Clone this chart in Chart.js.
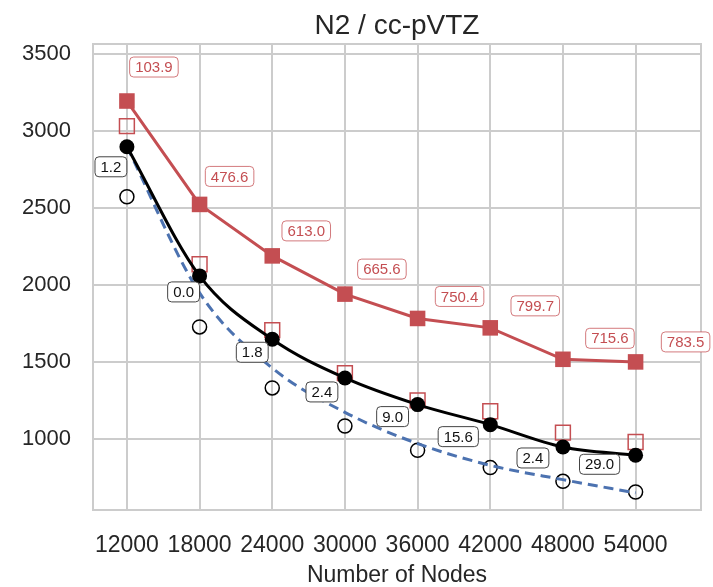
<!DOCTYPE html>
<html>
<head>
<meta charset="utf-8">
<script src="https://cdn.jsdelivr.net/npm/chart.js@4.4.1/dist/chart.umd.min.js"></script>
<style>
  body { margin: 0; background: #fff; }
  canvas { display: block; }
</style>
</head>
<body>
<canvas id="scalingChart" width="713" height="587"></canvas>
<script>
const FONT = '"Liberation Sans", Arial, sans-serif';

// datos
const nodes = [12000, 18000, 24000, 30000, 36000, 42000, 48000, 54000];
const tiempoRojo = [3195, 2524, 2190, 1942, 1784, 1723, 1519, 1502];
const tiempoRojoHueco = [3032, 2136, 1708, 1429, 1252, 1182, 1043, 982];
const tiempoNegro = [2898, 2060, 1649, 1398, 1225, 1095, 950, 896];
const tiempoNegroHueco = [2574, 1729, 1333, 1086, 929, 816, 727, 658];
const tiempoIdeal = [2898, 1950, 1462, 1175, 972, 831, 738, 652];
const etiquetasNegras = ['1.2', '0.0', '1.8', '2.4', '9.0', '15.6', '2.4', '29.0'];
const etiquetasRojas = ['103.9', '476.6', '613.0', '665.6', '750.4', '799.7', '715.6', '783.5'];
const xTicks = [12000, 18000, 24000, 30000, 36000, 42000, 48000, 54000];
const yTicks = [1000, 1500, 2000, 2500, 3000, 3500];

const ROJO = '#C44E52';
const AZUL = '#4C72B0';
const GRID = '#cccccc';

// desplazamiento (px) de cada caja respecto a su punto
const offsetsNegros = [[-16, 20], [-16, 16], [-20, 13], [-23, 14], [-25, 12], [-32, 12], [-30, 11], [-36, 9]];
const offsetsRojos = [[27, -34], [30, -28], [34, -25], [37, -25], [42, -22], [45, -22], [47, -21], [50, -20]];

const pts = vals => nodes.map((n, i) => ({ x: n, y: vals[i] }));

function cajaRedondeada(ctx, x, y, w, h, r) {
    ctx.beginPath();
    ctx.moveTo(x + r, y);
    ctx.arcTo(x + w, y, x + w, y + h, r);
    ctx.arcTo(x + w, y + h, x, y + h, r);
    ctx.arcTo(x, y + h, x, y, r);
    ctx.arcTo(x, y, x + w, y, r);
    ctx.closePath();
}

const marcoPlugin = {
    id: 'marco',
    beforeDatasetsDraw(chart) {
        const { ctx, chartArea: a } = chart;
        ctx.save();
        ctx.strokeStyle = GRID;
        ctx.lineWidth = 2;
        ctx.strokeRect(a.left, a.top, a.right - a.left, a.bottom - a.top);
        ctx.restore();
    },
    afterDraw(chart) {
        const { ctx, chartArea: a } = chart;
        ctx.save();
        ctx.fillStyle = '#262626';
        ctx.font = '28px ' + FONT;
        ctx.textAlign = 'center';
        ctx.textBaseline = 'alphabetic';
        ctx.fillText('N2 / cc-pVTZ', (a.left + a.right) / 2, 34);
        ctx.restore();
    }
};

const etiquetasPlugin = {
    id: 'etiquetas',
    afterDatasetsDraw(chart) {
        const ctx = chart.ctx;
        const xs = chart.scales.x, ys = chart.scales.y;
        const grupos = [
            { textos: etiquetasNegras, valores: tiempoNegro, offs: offsetsNegros, color: '#111', borde: '#444' },
            { textos: etiquetasRojas, valores: tiempoRojo, offs: offsetsRojos, color: ROJO, borde: 'rgba(196,78,82,0.75)' }
        ];
        ctx.save();
        ctx.font = '15px ' + FONT;
        ctx.textAlign = 'center';
        ctx.textBaseline = 'middle';
        grupos.forEach(g => {
            g.textos.forEach((t, i) => {
                const cx = xs.getPixelForValue(nodes[i]) + g.offs[i][0];
                const cy = ys.getPixelForValue(g.valores[i]) + g.offs[i][1];
                const w = ctx.measureText(t).width + 11;
                const h = 20;
                cajaRedondeada(ctx, cx - w / 2, cy - h / 2, w, h, 4);
                ctx.fillStyle = '#fff';
                ctx.fill();
                ctx.lineWidth = 1;
                ctx.strokeStyle = g.borde;
                ctx.stroke();
                ctx.fillStyle = g.color;
                ctx.fillText(t, cx, cy + 1);
            });
        });
        ctx.restore();
    }
};

const ctx = document.getElementById('scalingChart').getContext('2d');
new Chart(ctx, {
    type: 'line',
    data: {
        datasets: [
            {
                label: 'negro',
                data: pts(tiempoNegro),
                borderColor: '#000',
                backgroundColor: '#000',
                borderWidth: 3,
                pointRadius: 7.5,
                pointBorderWidth: 0,
                cubicInterpolationMode: 'monotone',
                order: 0
            },
            {
                label: 'rojo',
                data: pts(tiempoRojo),
                borderColor: ROJO,
                backgroundColor: ROJO,
                borderWidth: 3,
                pointStyle: 'rect',
                pointRadius: 11,
                pointBorderWidth: 0,
                order: 1
            },
            {
                label: 'ideal',
                data: pts(tiempoIdeal),
                borderColor: AZUL,
                borderWidth: 3,
                borderDash: [10, 6],
                pointRadius: 0,
                cubicInterpolationMode: 'monotone',
                order: 2
            },
            {
                label: 'negro hueco',
                data: pts(tiempoNegroHueco),
                showLine: false,
                borderColor: '#000',
                backgroundColor: 'rgba(0,0,0,0)',
                pointRadius: 7,
                pointBorderWidth: 1.5,
                order: 3
            },
            {
                label: 'rojo hueco',
                data: pts(tiempoRojoHueco),
                showLine: false,
                borderColor: ROJO,
                backgroundColor: 'rgba(0,0,0,0)',
                pointStyle: 'rect',
                pointRadius: 10.5,
                pointBorderWidth: 1.5,
                order: 4
            }
        ]
    },
    options: {
        responsive: false,
        animation: false,
        layout: { padding: { top: 44, right: 7, left: 0, bottom: 0 } },
        scales: {
            x: {
                type: 'linear',
                min: 9200,
                max: 59400,
                afterFit: s => { s.height = 77; s.paddingLeft = 0; s.paddingRight = 0; },
                afterBuildTicks: s => { s.ticks = xTicks.map(v => ({ value: v })); },
                grid: { color: GRID, lineWidth: 2, drawTicks: false },
                border: { display: false },
                ticks: {
                    padding: 22,
                    color: '#262626',
                    font: { family: FONT, size: 23 },
                    maxRotation: 0,
                    autoSkip: false,
                    callback: v => String(v)
                },
                title: {
                    display: true,
                    text: 'Number of Nodes',
                    color: '#262626',
                    font: { family: FONT, size: 23, lineHeight: 1 },
                    padding: { top: 0, bottom: 0 }
                }
            },
            y: {
                type: 'linear',
                min: 541,
                max: 3565,
                afterFit: s => { s.width = 93; s.paddingTop = 0; s.paddingBottom = 0; },
                afterBuildTicks: s => { s.ticks = yTicks.map(v => ({ value: v })); },
                grid: { color: GRID, lineWidth: 2, drawTicks: false },
                border: { display: false },
                ticks: {
                    padding: 22,
                    color: '#262626',
                    font: { family: FONT, size: 22 },
                    callback: v => String(v)
                }
            }
        },
        plugins: {
            legend: { display: false },
            tooltip: { enabled: false },
            title: { display: false }
        }
    },
    plugins: [marcoPlugin, etiquetasPlugin]
});
</script>
</body>
</html>
